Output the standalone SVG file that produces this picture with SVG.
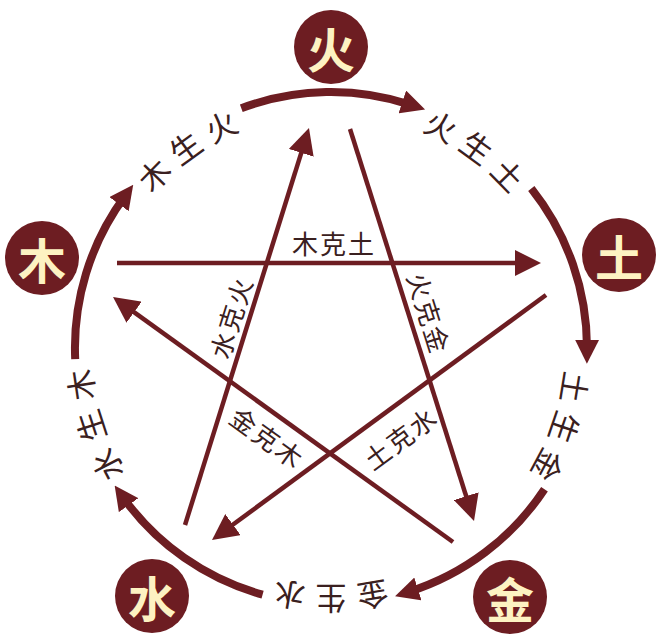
<svg xmlns="http://www.w3.org/2000/svg" width="671" height="643" viewBox="0 0 671 643">
<style>
.node circle{fill:#6d1d22}
.node text{fill:#fdf2c2;font-family:"Noto Sans CJK SC","Noto Sans CJK TC",sans-serif;font-weight:700;font-size:48px;text-anchor:middle;dominant-baseline:central}
.ring{fill:none;stroke:#6d1d22;stroke-width:8}
.star{fill:none;stroke:#6d1d22;stroke-width:4.5}
.lbl{fill:#3a2020;font-family:"Noto Sans CJK SC","Noto Sans CJK TC",sans-serif;font-size:31px;text-anchor:middle;dominant-baseline:central}
.ilbl{fill:#3a2020;font-family:"Noto Sans CJK SC","Noto Sans CJK TC",sans-serif;font-size:26px;letter-spacing:2px;text-anchor:middle;dominant-baseline:central}
</style>
<defs>
<marker id="ah" markerUnits="userSpaceOnUse" viewBox="0 -13 26 26" markerWidth="26" markerHeight="26" refX="10" refY="0" orient="auto"><path d="M0,-13 L26,0 L0,13 Z" fill="#6d1d22"/></marker>
<marker id="ahr" markerUnits="userSpaceOnUse" viewBox="0 -12 24 24" markerWidth="24" markerHeight="24" refX="10" refY="0" orient="auto"><path d="M0,-12 L24,0 L0,12 Z" fill="#6d1d22"/></marker>
</defs>
<rect width="671" height="643" fill="#ffffff"/>
<g id="connectors">
<path class="ring" d="M241.3,108.2 A256,256 0 0 1 411.8,105.1" marker-end="url(#ahr)"/>
<path class="ring" d="M531.3,188.6 A256,256 0 0 1 587.0,349.8" marker-end="url(#ahr)"/>
<path class="ring" d="M544.5,489.3 A256,256 0 0 1 408.4,592.0" marker-end="url(#ahr)"/>
<path class="ring" d="M262.6,594.7 A256,256 0 0 1 122.8,497.0" marker-end="url(#ahr)"/>
<path class="ring" d="M75.2,359.2 A256,256 0 0 1 124.9,196.1" marker-end="url(#ahr)"/>
<line class="star" x1="117" y1="263" x2="525" y2="263" marker-end="url(#ah)"/>
<line class="star" x1="350" y1="129" x2="469.2" y2="505.7" marker-end="url(#ah)"/>
<line class="star" x1="453" y1="542" x2="126" y2="306.4" marker-end="url(#ah)"/>
<line class="star" x1="185" y1="525" x2="304.2" y2="143.3" marker-end="url(#ah)"/>
<line class="star" x1="546" y1="295" x2="224.9" y2="530.5" marker-end="url(#ah)"/>
</g>
<g id="ring-labels">
<text class="lbl" x="331" y="99" transform="rotate(-45.6 331 348)">木</text>
<text class="lbl" x="331" y="99" transform="rotate(-36 331 348)">生</text>
<text class="lbl" x="331" y="99" transform="rotate(-26.4 331 348)">火</text>
<text class="lbl" x="331" y="99" transform="rotate(26.4 331 348)">火</text>
<text class="lbl" x="331" y="99" transform="rotate(36 331 348)">生</text>
<text class="lbl" x="331" y="99" transform="rotate(45.6 331 348)">土</text>
<text class="lbl" x="331" y="100" transform="rotate(99.2 331 348)">土</text>
<text class="lbl" x="331" y="100" transform="rotate(108.8 331 348)">生</text>
<text class="lbl" x="331" y="100" transform="rotate(118.4 331 348)">金</text>
<text class="lbl" x="331" y="96" transform="rotate(170.4 331 348)">金</text>
<text class="lbl" x="331" y="96" transform="rotate(180 331 348)">生</text>
<text class="lbl" x="331" y="96" transform="rotate(189.6 331 348)">水</text>
<text class="lbl" x="331" y="94" transform="rotate(242.4 331 348)">水</text>
<text class="lbl" x="331" y="94" transform="rotate(252 331 348)">生</text>
<text class="lbl" x="331" y="94" transform="rotate(261.6 331 348)">木</text>
</g>
<g id="star-labels">
<text class="ilbl" transform="translate(334,242)">木克土</text>
<text class="ilbl" transform="translate(230,317) rotate(-72.6)">水克火</text>
<text class="ilbl" transform="translate(430,313) rotate(72.5)">火克金</text>
<text class="ilbl" transform="translate(268,437) rotate(35.8)">金克木</text>
<text class="ilbl" transform="translate(400,437) rotate(-36.3)">土克水</text>
</g>
<g id="node-fire" class="node"><circle cx="331" cy="47" r="37"/><text x="331" y="47">火</text></g>
<g id="node-wood" class="node"><circle cx="42" cy="258" r="37"/><text x="42" y="258">木</text></g>
<g id="node-earth" class="node"><circle cx="619" cy="255" r="37"/><text x="619" y="255">土</text></g>
<g id="node-water" class="node"><circle cx="152" cy="596" r="37"/><text x="152" y="596">水</text></g>
<g id="node-metal" class="node"><circle cx="510" cy="597" r="37"/><text x="510" y="597">金</text></g>
</svg>
